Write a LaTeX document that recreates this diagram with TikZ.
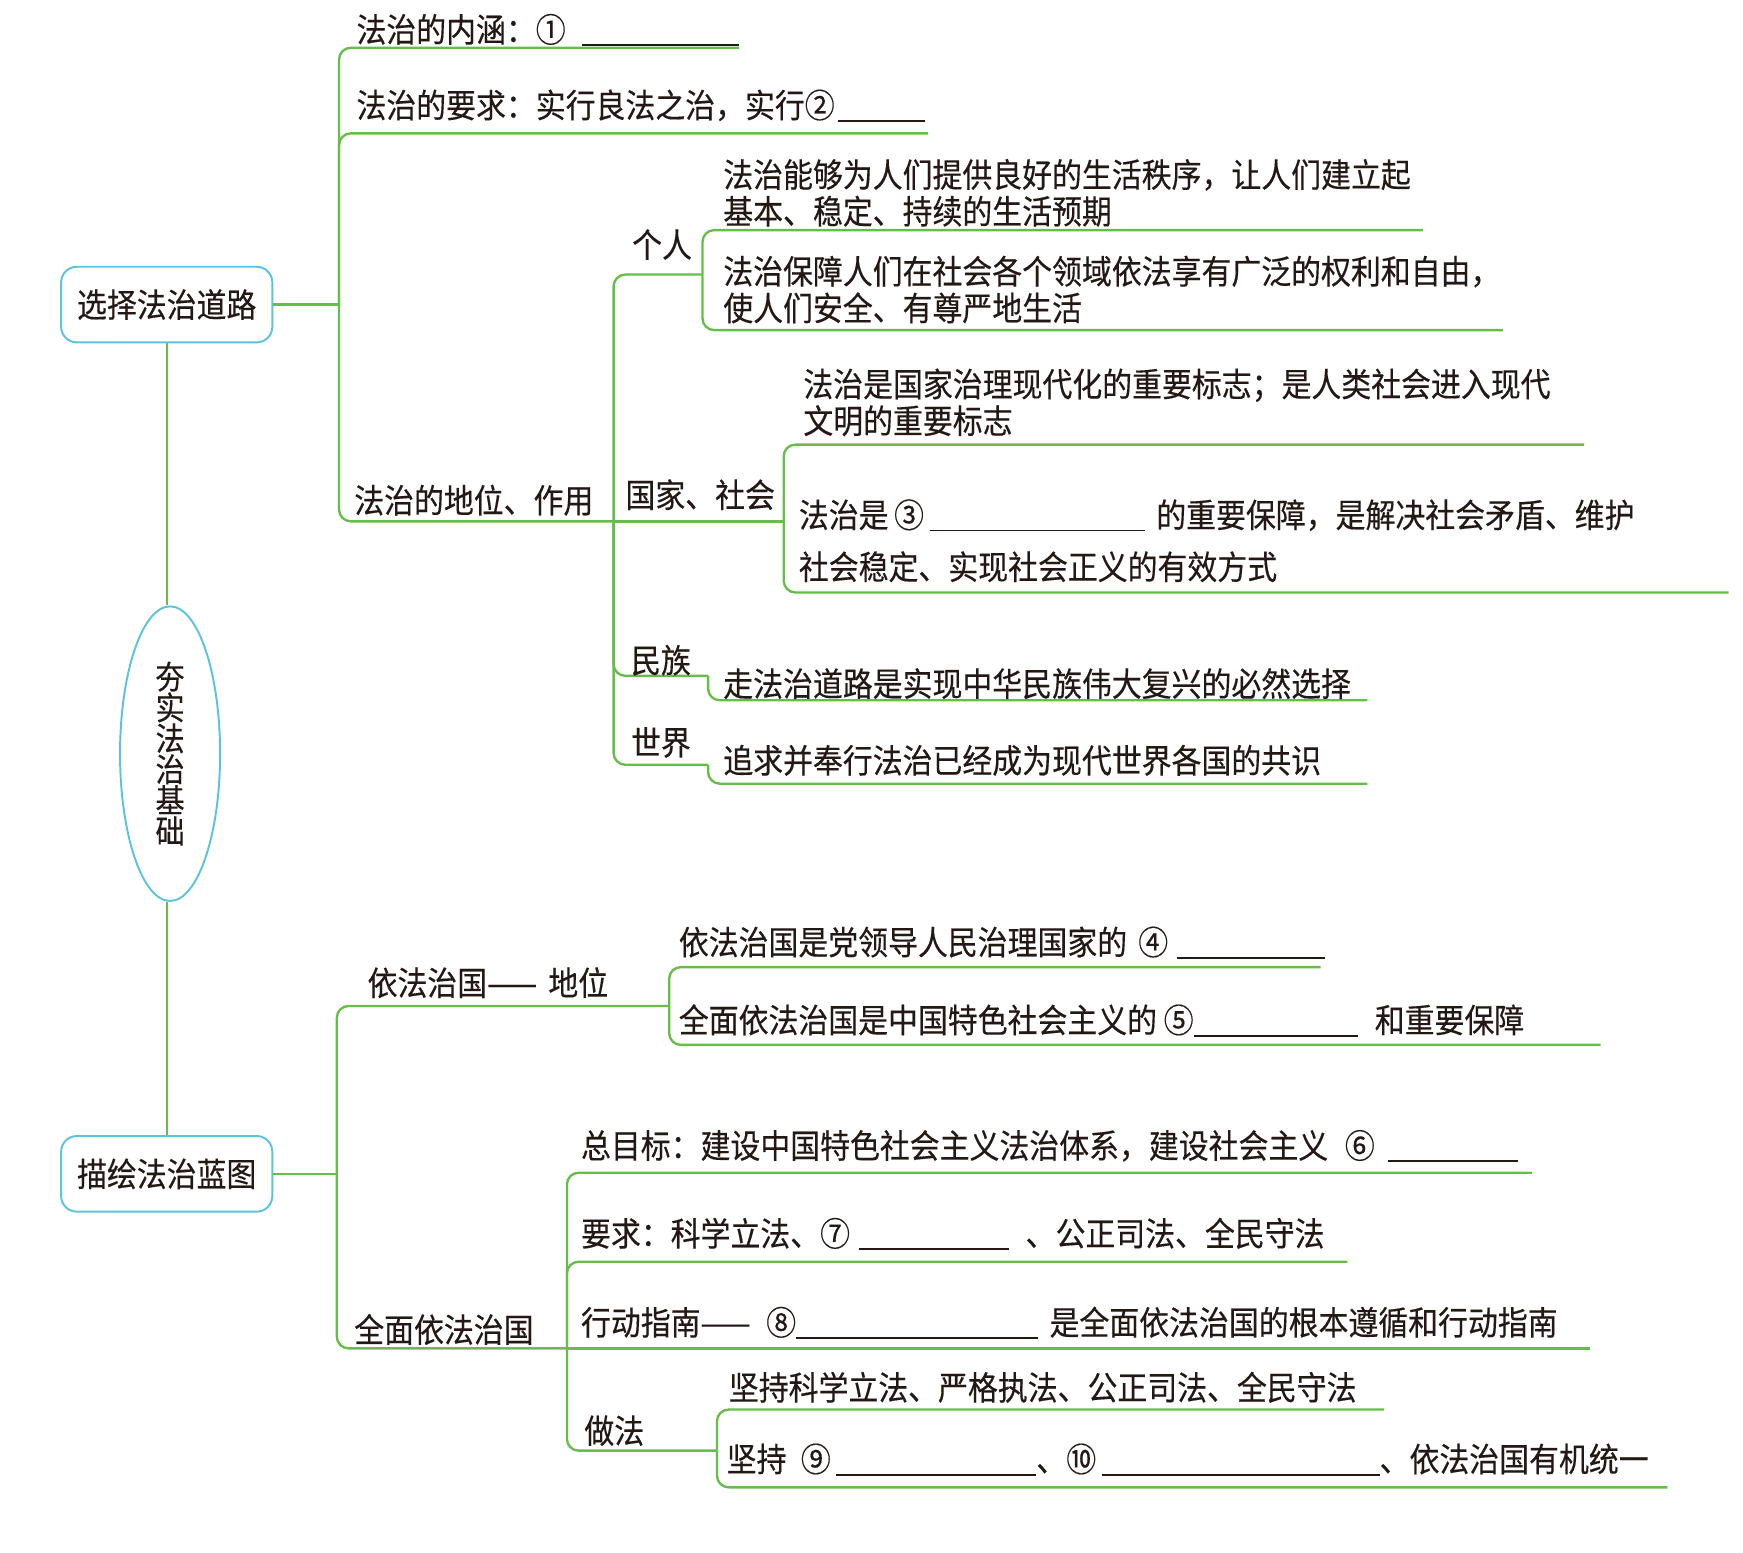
\documentclass[tikz,border=0pt]{standalone}
\usepackage{fontspec}
\usepackage{tikz}
\usetikzlibrary{shapes.geometric}
\setmainfont{Noto Sans CJK SC}[FakeStretch=0.9, FakeBold=0.35]
\definecolor{c1}{HTML}{66BE48}
\definecolor{c2}{HTML}{5BC3DE}
\definecolor{c3}{HTML}{231815}
\newcommand{\blankrule}[1]{\rule[-0.12em]{#1}{0.5pt}}
\tikzset{
  stem/.style={c1, line width=0.6pt},
  branch/.style={c1, line width=0.6pt, rounded corners=3pt},
  leaf/.style={anchor=west, inner sep=0pt, align=left, text=c3, font=\fontsize{8.5pt}{9.4pt}\selectfont},
  topic/.style={draw=c2, line width=0.5pt, rounded corners=4pt, minimum width=1.9cm, minimum height=0.68cm, text=c3, font=\fontsize{8.5pt}{9.4pt}\selectfont}
}
\begin{document}
\begin{tikzpicture}
  \useasboundingbox (0,0) rectangle (15.68,13.97);
  % Main topics
  \node[topic] (b1) at (1.50,11.23) {选择法治道路};
  \node[topic] (b2) at (1.50,3.41) {描绘法治蓝图};
  \node[ellipse, draw=c2, line width=0.5pt, minimum width=0.9cm, minimum height=2.65cm, inner sep=0pt, text=c3, align=center, font=\fontsize{8.3pt}{7.9pt}\selectfont] (root) at (1.53,7.19) {夯\\实\\法\\治\\基\\础};
  \draw[stem] (b1.south) -- (b1.south |- root.north);
  \draw[stem] (b2.north) -- (b2.north |- root.south);
  % 选择法治道路
  \coordinate (j1) at (3.05,11.23);
  \coordinate (j2) at (5.52,9.28);
  \draw[stem] (b1.east) -- (j1);
  \foreach \x/\y in {6.65/13.54, 8.35/12.77}
    \draw[branch] (j1) |- (\x,\y);
  \draw[branch] (j1) |- (j2);
  \node[leaf] (n1) at (3.20,13.70) {法治的内涵：①\hspace{0.15cm}\blankrule{1.41cm}};
  \node[leaf] (n2) at (3.20,13.02) {法治的要求：实行良法之治，实行②\hspace{0.03cm}\blankrule{0.78cm}};
  \node[leaf] (n3) at (3.18,9.47) {法治的地位、作用};
  % 法治的地位、作用
  \coordinate (j3) at (6.32,11.50);
  \coordinate (j4) at (7.05,9.28);
  \coordinate (j5) at (6.37,7.89);
  \coordinate (j6) at (6.37,7.09);
  \draw[stem] (j2) -- (j4);
  \foreach \c in {j3,j5,j6}
    \draw[branch] (j2) |- (\c);
  \node[leaf] (n4) at (5.68,11.77) {个人};
  \node[leaf] (n5) at (5.62,9.52) {国家、社会};
  \node[leaf] (n6) at (5.67,8.03) {民族};
  \node[leaf] (n7) at (5.67,7.29) {世界};
  % 个人
  \draw[branch] (j3) |- (12.80,11.90);
  \draw[branch] (j3) |- (13.52,11.00);
  \node[leaf] (n8) at (6.50,12.235) {法治能够为人们提供良好的生活秩序，让人们建立起\\基本、稳定、持续的生活预期};
  \node[leaf] (n9) at (6.50,11.365) {法治保障人们在社会各个领域依法享有广泛的权利和自由，\\使人们安全、有尊严地生活};
  % 国家、社会
  \draw[branch] (j4) |- (14.25,9.97);
  \draw[branch] (j4) |- (15.55,8.64);
  \node[leaf] (n10) at (7.22,10.35) {法治是国家治理现代化的重要标志；是人类社会进入现代\\文明的重要标志};
  \node[leaf] (n11) at (7.18,9.105) {法治是\hspace{0.05cm}③\hspace{0.05cm}\blankrule{1.94cm}\hspace{0.10cm}的重要保障，是解决社会矛盾、维护\\[3.9pt]社会稳定、实现社会正义的有效方式};
  % 民族、世界
  \draw[branch] (j5) |- (12.30,7.67);
  \draw[branch] (j6) |- (12.30,6.92);
  \node[leaf] (n12) at (6.50,7.82) {走法治道路是实现中华民族伟大复兴的必然选择};
  \node[leaf] (n13) at (6.50,7.13) {追求并奉行法治已经成为现代世界各国的共识};
  % 描绘法治蓝图
  \coordinate (j7) at (3.03,3.41);
  \coordinate (j8) at (6.02,4.92);
  \coordinate (j9) at (5.10,1.84);
  \draw[stem] (b2.east) -- (j7);
  \foreach \c in {j8,j9}
    \draw[branch] (j7) |- (\c);
  \node[leaf] (n14) at (3.30,5.13) {依法治国——\hspace{0.1cm}地位};
  \node[leaf] (n15) at (3.18,2.01) {全面依法治国};
  % 依法治国——地位
  \draw[branch] (j8) |- (11.88,5.27);
  \draw[branch] (j8) |- (14.40,4.57);
  \node[leaf] (n16) at (6.10,5.49) {依法治国是党领导人民治理国家的\hspace{0.1cm}④\hspace{0.08cm}\blankrule{1.33cm}};
  \node[leaf] (n17) at (6.10,4.79) {全面依法治国是中国特色社会主义的\hspace{0.06cm}⑤\blankrule{1.48cm}\hspace{0.15cm}和重要保障};
  % 全面依法治国
  \coordinate (j10) at (6.45,0.92);
  \foreach \x/\y in {13.78/3.42, 12.12/2.62}
    \draw[branch] (j9) |- (\x,\y);
  \draw[stem] (j9) -- (14.30,1.84);
  \draw[branch] (j9) |- (j10);
  \node[leaf] (n18) at (5.22,3.66) {总目标：建设中国特色社会主义法治体系，建设社会主义\hspace{0.15cm}⑥\hspace{0.12cm}\blankrule{1.17cm}};
  \node[leaf] (n19) at (5.22,2.87) {要求：科学立法、⑦\hspace{0.08cm}\blankrule{1.35cm}\hspace{0.15cm}、公正司法、全民守法};
  \node[leaf] (n20) at (5.22,2.07) {行动指南——\hspace{0.14cm}⑧\blankrule{2.18cm}\hspace{0.1cm}是全面依法治国的根本遵循和行动指南};
  \node[leaf] (n21) at (5.25,1.10) {做法};
  % 做法
  \draw[branch] (j10) |- (12.45,1.29);
  \draw[branch] (j10) |- (15.00,0.59);
  \node[leaf] (n22) at (6.55,1.49) {坚持科学立法、严格执法、公正司法、全民守法};
  \node[leaf] (n23) at (6.53,0.84) {坚持\hspace{0.13cm}⑨\hspace{0.05cm}\blankrule{1.80cm}、⑩\hspace{0.05cm}\blankrule{2.50cm}、依法治国有机统一};
\end{tikzpicture}
\end{document}
